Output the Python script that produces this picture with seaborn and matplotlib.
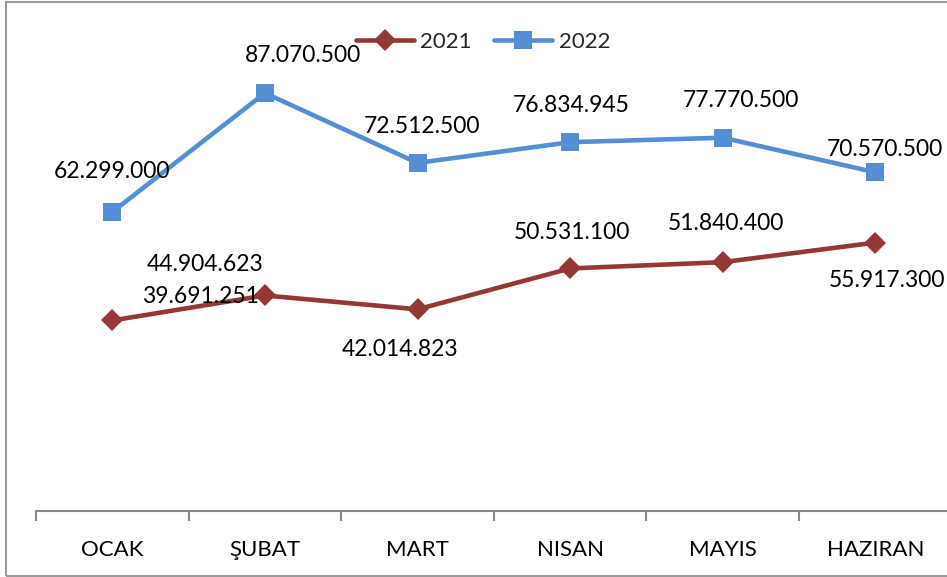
import matplotlib
matplotlib.use("Agg")
import matplotlib.pyplot as plt
import seaborn as sns
import pandas as pd
from matplotlib.patches import Rectangle
from matplotlib.lines import Line2D

months = ["OCAK", "ŞUBAT", "MART", "NISAN", "MAYIS", "HAZIRAN"]
v2021 = [39691251, 44904623, 42014823, 50531100, 51840400, 55917300]
v2022 = [62299000, 87070500, 72512500, 76834945, 77770500, 70570500]
lab2021 = ["39.691.251", "44.904.623", "42.014.823", "50.531.100", "51.840.400", "55.917.300"]
lab2022 = ["62.299.000", "87.070.500", "72.512.500", "76.834.945", "77.770.500", "70.570.500"]

df = pd.DataFrame({
    "month": months * 2,
    "value": v2021 + v2022,
    "year": ["2021"] * 6 + ["2022"] * 6,
})

sns.set_theme(style="white")
plt.rcParams["font.family"] = ["Lato", "DejaVu Sans"]

W, H = 947, 577
fig = plt.figure(figsize=(W / 100, H / 100), dpi=100)
ax = fig.add_axes([36 / W, (H - 511) / H, 915.6 / W, 480 / H])

colors = {"2021": "#953735", "2022": "#558ED5"}
sns.lineplot(data=df, x="month", y="value", hue="year", style="year",
             markers={"2021": "D", "2022": "s"}, dashes=False,
             palette=colors, linewidth=3.3, ax=ax, legend=False,
             markeredgewidth=0)
for line, ms in zip(ax.lines, [11.5, 12.5]):
    line.set_markersize(ms)

ax.set_xlim(-0.5, 5.5)
ax.set_ylim(0, 100_000_000)
ax.set_xlabel("")
ax.set_ylabel("")
ax.set_yticks([])
for s in ["left", "right", "top"]:
    ax.spines[s].set_visible(False)
ax.spines["bottom"].set_color("#898989")
ax.spines["bottom"].set_linewidth(1.5)
ax.set_xticks(range(6))
ax.set_xticklabels(months, fontsize=16, color="black")
ax.tick_params(axis="x", which="major", length=0, pad=21, bottom=True)
ax.set_xticks([i - 0.5 for i in range(7)], minor=True)
ax.tick_params(axis="x", which="minor", length=7, width=1.5, color="#898989",
               direction="out", bottom=True)
ax.grid(False)

# label offsets in pixels (dx, dy) relative to data points
off2022 = [(0, 40), (38, 38), (4, 36), (1, 37), (18, 37), (10, 23)]
off2021 = [(88, 24), (-60, 31), (-17, -40), (2, 36), (3, 39), (12, -38)]
for i in range(6):
    ax.annotate(lab2022[i], (i, v2022[i]), xytext=off2022[i], textcoords="offset pixels",
                ha="center", va="center", fontsize=16.5, color="black")
    ax.annotate(lab2021[i], (i, v2021[i]), xytext=off2021[i], textcoords="offset pixels",
                ha="center", va="center", fontsize=16.5, color="black")

handles = [Line2D([], [], color=colors["2021"], marker="D", markersize=11.5, lw=3.3, markeredgewidth=0),
           Line2D([], [], color=colors["2022"], marker="s", markersize=12.5, lw=3.3, markeredgewidth=0)]
fig.legend(handles, ["2021", "2022"], loc="center", bbox_to_anchor=(483 / W, 1 - 42 / H),
           ncol=2, frameon=False, fontsize=16, handlelength=2.6, columnspacing=1.0,
           handletextpad=0.3)

fig.patches.append(Rectangle((6 / W, 1 / H), 1.0, 1 - 3 / H, transform=fig.transFigure,
                             fill=False, edgecolor="#9a9a9a", linewidth=1.5))

fig.savefig("out.png", dpi=100)
